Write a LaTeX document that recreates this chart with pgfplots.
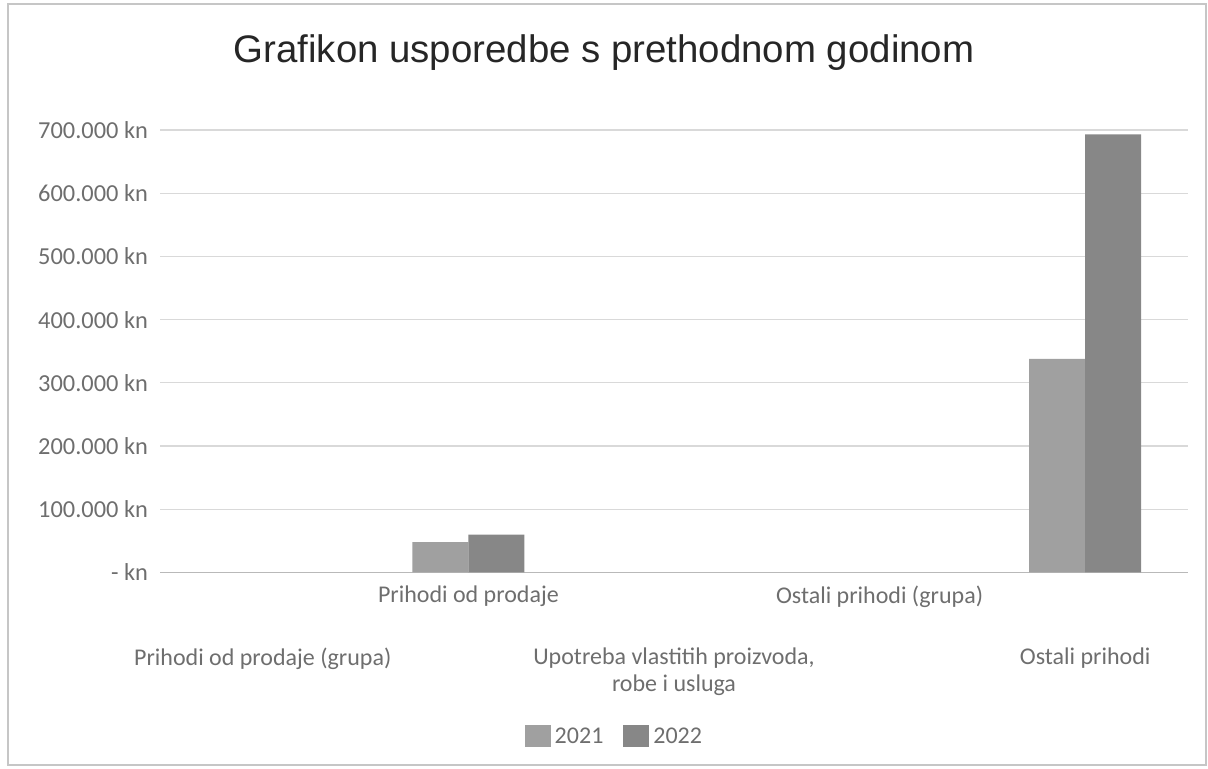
\documentclass[border=0pt]{standalone}
\usepackage{pgfplots}
\pgfplotsset{compat=1.18}
\usepackage{fontspec}
\setmainfont{Carlito}
\newfontfamily\titlefont{Liberation Sans}
\definecolor{txt}{HTML}{6E6E6E}
\definecolor{gridc}{HTML}{D9D9D9}
\definecolor{cA}{HTML}{A0A0A0}
\definecolor{cB}{HTML}{878787}
\begin{document}
\begin{tikzpicture}
\useasboundingbox (0,0) rectangle (604pt,384.5pt);
\draw[gray!45, line width=0.6pt] (4pt,2pt) rectangle (603pt,382.5pt);
\node[anchor=base, font=\titlefont\fontsize{19.2}{23}\selectfont, text=black!85] at (302pt,353pt) {Grafikon usporedbe s prethodnom godinom};
\begin{axis}[
  at={(80pt,98.25pt)}, anchor=south west,
  scale only axis, width=514pt, height=221.25pt,
  xmin=-0.5, xmax=4.5, ymin=0, ymax=700000,
  scaled y ticks=false,
  ybar=0pt, bar width=28pt,
  axis lines=left,
  y axis line style={draw=none},
  x axis line style={draw=gray!55, -},
  ymajorgrids, grid style={gridc, line width=0.6pt},
  major tick length=0pt,
  ytick={0,100000,200000,300000,400000,500000,600000,700000},
  yticklabels={- kn, 100.000 kn, 200.000 kn, 300.000 kn, 400.000 kn, 500.000 kn, 600.000 kn, 700.000 kn},
  yticklabel style={font=\fontsize{12.2}{14}\selectfont, text=txt, xshift=-2.5pt},
  xtick={1,3},
  xticklabels={Prihodi od prodaje, Ostali prihodi (grupa)},
  xticklabel style={font=\fontsize{12}{13.5}\selectfont, text=txt, align=center, anchor=north, yshift=-3pt},
  extra x ticks={0,2,4},
  extra x tick labels={Prihodi od prodaje (grupa), {Upotreba vlastitih proizvoda,\\ robe i usluga}, Ostali prihodi},
  extra x tick style={xticklabel style={yshift=-31pt}, major tick length=0pt},
  legend style={at={(0.443,-0.372)}, anchor=center, draw=none, fill=none,
    legend columns=2, font=\fontsize{12}{14}\selectfont, text=txt,
    /tikz/every even column/.append style={column sep=8pt}},
]
\addplot[fill=cA, draw=none, legend image code/.code={\fill[cA] (0pt,-5pt) rectangle (13pt,6pt);}] coordinates {(1,48000) (4,338000)};
\addplot[fill=cB, draw=none, legend image code/.code={\fill[cB] (0pt,-5pt) rectangle (13pt,6pt);}] coordinates {(1,60000) (4,693000)};
\legend{2021, 2022}
\end{axis}
\end{tikzpicture}
\end{document}
